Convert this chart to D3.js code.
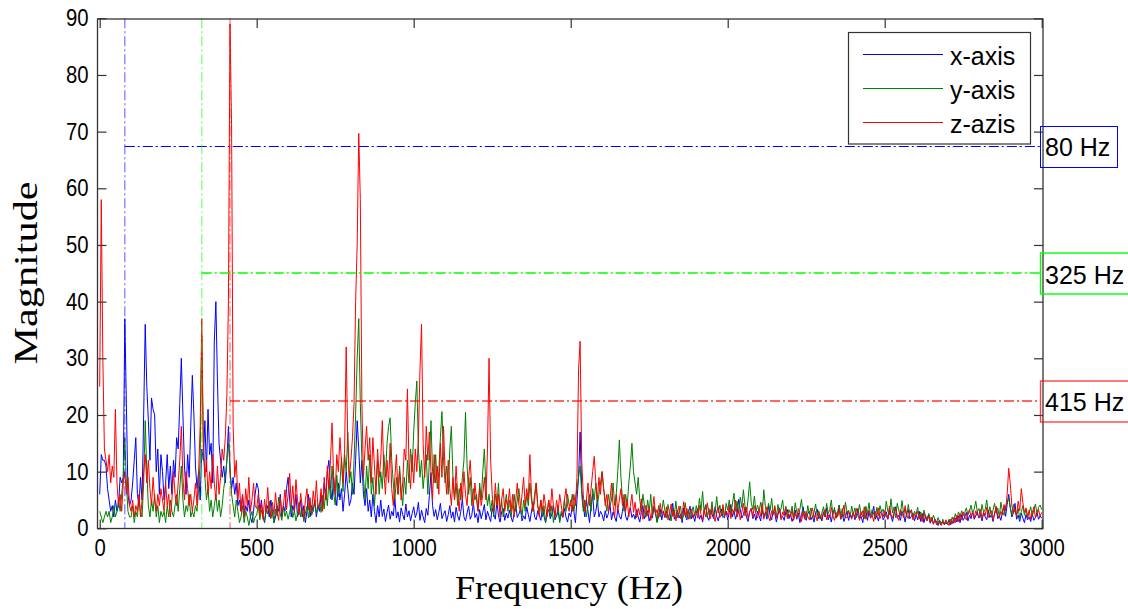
<!DOCTYPE html>
<html>
<head>
<meta charset="utf-8">
<script src="https://cdn.jsdelivr.net/npm/d3@7"></script>
<style>
  body { margin: 0; background: #fff; }
  svg { display: block; }
</style>
</head>
<body>
<svg id="chart" width="1128" height="609"></svg>
<script>
// Spectrum bins are spaced 5 Hz apart, starting at 0 Hz.
const freqStep = 5;

// FFT magnitude of the x-axis accelerometer channel (0 .. 3000 Hz)
const xAxisMag = [
  6,13,12,12,11,7,5,3,4,2,5,3,4,9,8,9,37,22,6,4,
  5,8,12,16,6,4,9,5,20,36,25,19,12,23,21,20,10,14,6,13,
  10,5,8,13,7,11,6,12,9,16,14,22,30,20,11,6,13,9,18,27,
  20,11,7,10,5,14,12,19,10,21,13,15,8,33,40,26,15,12,9,11,
  8,12,18,10,7,9,6,8,4,5,3,6,2,4,3,5,2,1,3,6,
  8,7,3,5,2,1,3,4,2,5,3,1,2,4,3,6,2,4,3,7,
  9,5,2,4,3,6,2,3,5,2,4,1,3,6,2,4,3,5,2,4,
  3,6,4,8,5,10,12,7,5,9,6,4,8,5,7,3,6,10,7,4,
  5,8,6,12,19,14,8,12,6,4,7,3,5,2,6,3,1,4,2,5,
  2.1,3.4,1.2,2.8,4.1,1.6,3.0,2.2,5.2,1.8,2.9,1.1,3.6,2.4,1.5,4.3,2.0,3.1,1.3,2.6,
  3.8,1.9,2.7,4.6,1.4,3.2,2.0,1.0,3.5,2.3,5.8,9.8,4.0,2.1,3.3,1.5,2.8,4.4,1.7,2.5,
  3.1,1.2,2.4,4.0,1.8,2.9,1.1,3.7,2.2,1.4,3.0,5.1,2.0,1.3,2.7,3.9,1.6,2.3,4.5,1.9,
  2.6,1.0,3.3,1.7,2.8,4.2,1.5,3.0,2.1,1.2,3.6,2.4,1.6,4.8,2.2,1.1,2.9,3.5,1.4,2.7,
  1.8,3.2,2.0,1.1,2.7,4.1,1.9,2.5,3.4,1.3,2.2,1.6,3.8,2.4,1.2,2.9,4.6,2.0,1.5,3.1,
  2.3,1.4,3.6,2.1,1.0,2.8,3.3,1.7,2.5,4.0,1.5,2.2,3.0,1.3,2.6,1.9,3.5,2.0,1.1,2.7,
  2,4,3,1,5,9,17,7,4,2,5,3,1,4,6,2,3,5,2,3,
  2.4,1.3,3.1,1.8,2.6,4.3,1.5,2.9,2.0,1.2,3.4,2.2,1.6,3.0,4.9,2.1,1.4,2.7,3.6,1.9,
  2.5,1.6,3.3,2.0,1.1,2.8,4.0,1.7,2.4,3.1,1.3,2.2,1.8,3.7,2.6,1.2,2.0,3.4,1.5,2.9,
  1.9,3.0,2.3,1.4,2.7,4.4,1.6,2.1,3.2,1.8,2.5,1.0,3.6,2.2,1.5,2.8,3.9,1.7,2.4,1.2,
  2.6,3.5,1.6,2.3,1.1,2.9,4.1,2.0,1.4,3.2,2.5,1.7,3.8,2.1,1.3,2.7,3.4,1.9,2.2,3.0,
  1.5,2.8,4.2,2.0,3.1,1.6,2.6,5.1,3.3,1.8,2.4,3.7,1.9,1.2,2.9,3.5,1.7,2.5,1.4,3.0,
  2.2,1.3,3.4,2.0,2.8,1.6,4.0,2.3,1.5,3.1,2.6,1.1,2.4,3.6,1.8,2.1,1.4,2.9,3.3,1.7,
  2.5,1.2,2.0,3.2,1.6,2.7,1.0,2.3,3.8,1.9,1.4,2.6,3.0,1.5,2.1,1.1,2.8,3.4,1.7,2.2,
  1.3,2.9,2.0,3.6,1.5,2.4,1.1,2.7,3.3,1.8,2.2,4.1,1.6,2.5,1.2,2.0,3.0,1.4,2.6,1.9,
  2.8,1.5,2.3,3.5,1.7,2.1,1.0,2.6,3.2,1.4,2.9,1.8,2.4,3.9,1.6,2.2,1.3,2.7,3.1,1.5,
  2.0,2.9,1.6,3.4,2.2,1.2,2.6,3.8,1.8,2.3,1.4,3.0,2.5,1.1,2.8,3.3,1.7,2.1,2.7,1.3,
  2.4,1.5,3.0,1.2,2.6,1.0,2.2,1.4,2.5,0.9,1.9,0.7,1.6,1.1,0.5,1.4,0.8,1.2,0.6,1.0,
  0.7,1.5,0.6,1.3,0.9,1.8,1.1,2.2,1.0,2.4,1.4,2.0,2.8,1.3,2.3,1.7,3.0,1.6,2.2,2.8,
  1.8,2.3,1.3,2.8,2.0,1.5,3.2,1.9,2.4,1.2,2.7,3.5,1.7,2.2,1.4,2.9,3.8,2.1,4.2,6.0,
  3.6,2.0,2.8,4.4,1.6,2.3,1.2,2.7,1.8,1.0,2.4,1.5,2.0,1.2,2.6,1.4,1.9,2.8,1.6,2.2,
  1.8
];

// FFT magnitude of the y-axis channel
const yAxisMag = [
  3,2,1,2,3,2,3,1,2,4,2,3,5,3,6,9,16,8,3,2,
  2,4,1,3,2,5,3,2,8,19,10,4,2,5,3,6,2,4,1,3,
  2,3,1,4,2,5,3,2,4,6,3,7,11,5,2,4,3,6,2,3,
  2,4,3,7,12,34,14,9,5,7,3,5,2,4,6,3,5,2,4,7,
  9,12,15,11,6,4,2,5,3,1,2,4,1,3,2,0.5,2,3,1,2,
  2.3,4.1,1.5,3.2,2.0,1.2,3.6,2.5,4.8,1.7,2.9,1.0,3.4,2.2,5.5,2.6,1.4,3.8,2.1,3.0,
  1.6,2.8,4.2,1.9,3.1,1.3,2.5,4.6,2.0,3.5,1.2,2.7,3.9,1.8,4.4,2.3,3.2,5.0,2.6,3.6,
  4.5,2.8,5.8,3.4,6.9,4.0,8.5,5.2,11,6.3,4.1,9.4,5.6,7.8,12.5,6.5,13,10,17,8,
  10,6,12,20,30,37,22,12,9,5,11,7,13,6,9,4,8,12,6,10,
  7,13,9,15,18,19.5,12,8,5,9,6,11,7,4,9,6,12,8,14,10,
  17,22,26,14,9,12,7,10,13,6,12,19,10,8,13,7,10,16,20.6,12,
  8,11,6,14,18,9,5,8,4,7,5,9,12,20.5,11,6,9,4,7,5,
  6,3,8,5,10,14,7,4,6,3,5,2,6,4,8,3,5,2,4,6,
  3,5,2,4,6,3,5,7,4,2,5,3,6,4,8,5,3,6,8,4,
  3,5,2,4,1,3,5,2,4,1,3,2,4,1,3,2,5,3,6,4,
  4,6,3,5,7,9,11,6,3,5,2,4,6,3,7,5,8,4,6,8,
  10,7,5,3,6,4,5,8,4,6,10,15.6,9,5,3,6,4,8,11,15,
  10,8,6,9,5,3,6,4,2,5,3,6,2,4,3,1,4,2,3,5,
  3.1,1.8,4.2,2.5,1.3,3.6,2.2,4.8,1.9,2.7,3.9,1.5,2.4,4.5,2.0,3.3,1.6,2.9,3.8,2.1,
  4.0,2.6,5.3,3.1,6.5,2.8,4.2,1.9,3.5,2.4,4.7,2.0,3.0,5.6,2.7,4.1,2.2,3.6,1.8,4.4,
  3.2,5.0,2.4,4.3,6.2,3.0,4.8,2.6,5.5,3.7,6.8,4.0,2.8,5.2,8.2,4.5,3.3,5.7,2.9,4.1,
  3.0,4.6,2.5,6.8,3.8,2.2,4.4,3.1,5.3,2.4,3.7,1.9,4.2,2.8,3.5,5.0,2.3,3.9,2.0,3.3,
  2.6,3.9,1.8,4.5,2.9,2.1,3.4,5.1,2.4,3.0,1.7,4.0,2.5,3.6,1.9,2.8,4.3,2.2,3.1,1.6,
  2.7,3.8,2.0,4.4,2.6,3.3,5.0,2.3,3.7,1.8,2.9,4.1,2.2,3.5,1.9,4.6,2.8,3.2,2.1,3.9,
  2.4,3.6,1.9,2.8,4.2,2.3,3.1,1.7,3.9,2.6,4.5,2.0,3.3,2.5,1.8,3.7,2.2,4.0,2.9,3.4,
  2.1,4.8,3.0,2.4,5.2,2.7,3.8,1.9,4.4,3.1,2.3,4.9,2.8,3.5,2.0,4.2,2.6,3.3,1.8,3.0,
  2.5,3.7,1.9,2.9,1.6,3.2,2.2,1.4,2.6,1.8,1.2,2.3,1.5,0.9,1.9,1.1,0.6,1.6,0.8,1.3,
  0.7,1.6,0.9,2.0,1.2,2.6,1.5,2.9,1.9,3.1,2.2,2.8,3.6,2.4,3.0,4.1,2.6,3.4,4.8,2.9,
  3.5,2.2,4.2,2.8,3.3,5.0,2.5,3.8,2.1,3.2,4.4,2.7,3.6,2.0,4.6,3.0,2.3,3.9,4.5,5.4,
  3.6,2.4,4.2,3.0,2.2,3.5,1.8,2.9,4.0,2.3,3.4,1.9,2.7,3.8,2.1,3.2,4.3,2.6,3.7,4.1,
  3.3
];

// FFT magnitude of the z-axis channel
const zAxisMag = [
  25,58,30,14,12,10,13,8,11,9,21,8,4,6,3,8,10,6,9,4,
  3,5,2,4,3,6,2,5,10,13,8,12,7,4,9,5,3,6,4,7,
  5,3,8,4,6,2,5,10,6,4,8,12,18,9,5,10,7,4,6,3,
  5,8,4,10,18,37,16,9,12,6,10,7,13,8,5,11,6,9,14,12,
  16,23.5,40,89,71,18,9,12,5,8,3,6,2,7,4,9,3,5,8,4,
  3.5,6.0,2.2,4.4,1.6,5.1,2.8,7.2,3.4,1.9,4.6,2.5,6.3,3.0,1.4,5.5,2.7,4.0,6.8,3.3,
  5.9,9.7,4.2,7.5,3.1,8.6,5.0,2.4,6.2,3.8,1.7,4.9,7.0,3.2,5.4,2.6,6.6,4.1,8.4,3.6,
  4,7,3,9,5,11,7,12,18.6,9,6,13,10,16,12,8,14,32,15,9,
  12,16,22,40,50,69.7,58,22,9,14,18,12,16,8,16,11,6,14,9,12,
  19,10,6,12,8,15,7,4,9,13,6,10,5,8,14,12,24.6,11,7,13,
  8,14,10,16,28,36,15,9,18,12,17,10,5,13,8,11,6,15,9,18,
  10,6,12,7,4,9,5,11,6,3,8,5,10,6,4,9,12,7,4,8,
  5,3,7,4,6,9,5,14,30,12,6,3,8,4,6,2,5,7,3,5,
  4,7,3,6,2,5,8,4,3,6,9,4,7,5,13,6,3,5,8,4,
  2,5,3,6,4,2,5,3,7,4,2,5,3,6,4,2,5,7,4,3,
  5,3,6,4,9,28,33,12,6,3,5,8,4,7,10,12.7,8,5,9,6,
  10,7,4,6,3,5,8,4,2,6,3,5,7,4,6,3,5,2,4,6,
  2.8,4.6,1.9,3.5,2.4,5.2,1.6,3.0,4.1,2.2,3.7,1.4,2.9,5.6,2.5,3.3,1.8,4.4,2.6,3.1,
  2.0,3.8,1.5,2.7,4.3,2.1,3.2,1.3,2.8,3.9,1.7,2.4,4.7,2.2,3.5,1.6,2.9,3.4,1.9,2.6,
  3.1,1.8,4.0,2.4,1.4,3.3,2.0,4.5,2.6,1.7,3.6,2.2,1.2,2.9,3.8,1.9,2.5,4.2,2.1,3.0,
  2.3,4.1,1.7,3.4,2.6,5.0,2.0,3.2,1.5,2.8,4.4,2.2,3.7,1.6,2.9,3.5,2.0,4.0,2.4,1.8,
  3.3,2.1,4.5,1.6,2.7,3.8,2.0,1.3,3.1,2.4,4.0,1.8,2.6,3.4,1.5,2.9,2.2,3.7,1.7,2.5,
  2.0,3.2,1.4,2.6,1.9,3.5,2.3,1.2,2.8,1.6,3.0,2.1,1.5,2.7,3.6,1.8,2.4,1.3,2.9,2.2,
  1.7,2.6,3.3,1.5,2.4,1.9,3.7,2.2,1.4,2.8,2.0,3.4,1.6,2.5,4.1,2.1,1.8,3.0,2.3,1.6,
  2.7,1.9,3.5,2.3,1.4,2.9,2.0,3.8,1.6,2.5,3.2,1.8,2.4,1.2,3.0,2.2,3.6,1.7,2.6,2.0,
  3.1,2.2,1.6,3.9,2.4,1.8,2.9,3.5,2.0,1.4,3.3,2.6,1.9,4.0,2.3,1.7,2.8,3.2,1.5,2.5,
  2.1,3.0,1.6,2.4,1.2,2.7,1.8,1.3,2.2,1.0,1.9,0.8,1.5,0.6,1.3,0.9,0.5,1.2,0.7,1.5,
  0.9,0.5,1.6,0.8,1.9,1.0,2.3,1.2,2.6,1.5,2.9,2.0,1.5,2.6,3.3,2.1,2.8,1.8,3.1,2.4,
  2.0,3.4,1.7,2.8,2.3,3.7,1.9,2.6,3.1,1.5,2.5,3.9,2.2,1.8,3.0,2.4,4.2,3.1,6.0,10.6,
  7.8,4.0,2.6,3.4,2.2,4.8,3.1,7.0,4.5,2.8,3.6,2.0,3.2,1.6,2.7,3.8,1.9,2.4,3.3,2.1,
  2.8
];

const seriesNames = ["x-axis", "y-axis", "z-azis"];
const seriesColors = ["#0000ff", "#008000", "#ff0000"];

const xTicks = [0, 500, 1000, 1500, 2000, 2500, 3000];
const yTicks = [0, 10, 20, 30, 40, 50, 60, 70, 80, 90];

// Dominant frequency markers: frequency, label height, label text, colour
const markerFreqs = [80, 325, 415];
const markerLevels = [67.5, 45, 22.5];
const markerLabels = ["80 Hz", "325 Hz", "415 Hz"];
const markerColors = ["#0000ff", "#00ff00", "#ff0000"];

const sans = "'Liberation Sans', Arial, Helvetica, sans-serif";
const serif = "'Liberation Serif', 'Times New Roman', serif";

const svg = d3.select("#chart");

const x = d3.scaleLinear().domain([0, 3000]).range([99.7, 1041.7]);
const y = d3.scaleLinear().domain([0, 90]).range([528.3, 18.3]);

const box = { left: 97.5, right: 1043, top: 19, bottom: 528.5 };

svg.append("defs").append("clipPath").attr("id", "plotClip")
  .append("rect")
  .attr("x", box.left).attr("y", box.top)
  .attr("width", box.right - box.left).attr("height", box.bottom - box.top);

// spectra
const plot = svg.append("g").attr("clip-path", "url(#plotClip)");
const line = d3.line()
  .x((d, i) => x(i * freqStep))
  .y(d => y(d));

[xAxisMag, yAxisMag, zAxisMag].forEach((vals, k) => {
  plot.append("path")
    .datum(vals)
    .attr("fill", "none")
    .attr("stroke", seriesColors[k])
    .attr("stroke-width", 1)
    .attr("stroke-linejoin", "round")
    .attr("d", line);
});

// dash-dot marker lines
const dashDot = "10,3,2,3";
const markers = svg.append("g");
markerFreqs.forEach((f, k) => {
  markers.append("line")
    .attr("x1", x(f)).attr("x2", x(f))
    .attr("y1", y(90)).attr("y2", y(0))
    .attr("stroke", markerColors[k])
    .attr("stroke-opacity", 0.55)
    .attr("stroke-width", 1.2)
    .attr("stroke-dasharray", dashDot);
  const ly = k === 0 ? Math.round(y(markerLevels[k])) + 0.5 : Math.round(y(markerLevels[k]));
  markers.append("line")
    .attr("x1", x(f)).attr("x2", 1040)
    .attr("y1", ly).attr("y2", ly)
    .attr("stroke", markerColors[k])
    .attr("stroke-opacity", k === 2 ? 0.8 : 1)
    .attr("stroke-width", k === 0 ? 1.1 : 1.4)
    .attr("stroke-dasharray", dashDot);
});

// axes frame and inward ticks
const axisColor = "#333333";
svg.append("rect")
  .attr("x", box.left).attr("y", box.top)
  .attr("width", box.right - box.left).attr("height", box.bottom - box.top)
  .attr("fill", "none").attr("stroke", axisColor).attr("stroke-width", 1.3);

function styleAxis(g, labelled) {
  g.select(".domain").remove();
  g.selectAll(".tick line").attr("stroke", axisColor).attr("stroke-width", 1.2);
  const t = g.selectAll(".tick text")
    .attr("fill", "#000")
    .style("font-family", sans)
    .style("font-size", "23px");
  if (labelled) {
    t.attr("textLength", d => String(d).length * 11.3)
     .attr("lengthAdjust", "spacingAndGlyphs");
  }
}

const fmt = d3.format("d");

svg.append("g")
  .attr("transform", `translate(0,${box.bottom})`)
  .call(d3.axisBottom(x).tickValues(xTicks).tickFormat(fmt)
    .tickSizeInner(-9).tickSizeOuter(0).tickPadding(11))
  .call(g => styleAxis(g, true));

svg.append("g")
  .attr("transform", `translate(0,${box.top})`)
  .call(d3.axisTop(x).tickValues(xTicks).tickSizeInner(-9).tickSizeOuter(0).tickFormat(""))
  .call(g => styleAxis(g, false));

svg.append("g")
  .attr("transform", `translate(${box.left},0)`)
  .call(d3.axisLeft(y).tickValues(yTicks).tickFormat(fmt)
    .tickSizeInner(-9).tickSizeOuter(0).tickPadding(9))
  .call(g => styleAxis(g, true));

svg.append("g")
  .attr("transform", `translate(${box.right},0)`)
  .call(d3.axisRight(y).tickValues(yTicks).tickSizeInner(-9).tickSizeOuter(0).tickFormat(""))
  .call(g => styleAxis(g, false));

// axis titles
svg.append("text")
  .attr("x", 569).attr("y", 599)
  .attr("text-anchor", "middle")
  .attr("textLength", 228).attr("lengthAdjust", "spacingAndGlyphs")
  .style("font-family", serif).style("font-size", "34px")
  .text("Frequency (Hz)");

svg.append("text")
  .attr("transform", "translate(37,273) rotate(-90)")
  .attr("text-anchor", "middle")
  .attr("textLength", 183).attr("lengthAdjust", "spacingAndGlyphs")
  .style("font-family", serif).style("font-size", "34px")
  .text("Magnitude");

// marker labels in boxes on the right
markerLabels.forEach((lab, k) => {
  const cy = y(markerLevels[k]);
  svg.append("rect")
    .attr("x", 1040.5).attr("y", Math.round(cy - 20) + (k === 0 ? 0.5 : 0))
    .attr("width", k === 0 ? 77 : 100).attr("height", 41)
    .attr("fill", "none")
    .attr("stroke", markerColors[k])
    .attr("stroke-opacity", k === 2 ? 0.75 : 1)
    .attr("stroke-width", k === 0 ? 1 : 1.4);
  svg.append("text")
    .attr("x", 1045).attr("y", cy + 10.5)
    .style("font-family", sans).style("font-size", "25px")
    .text(lab);
});

// legend
const legend = svg.append("g");
legend.append("rect")
  .attr("x", 848.5).attr("y", 32.5).attr("width", 182).attr("height", 111.5)
  .attr("fill", "#fff").attr("stroke", axisColor).attr("stroke-width", 1.2);
seriesNames.forEach((name, k) => {
  const ly = 54.5 + k * 34;
  legend.append("line")
    .attr("x1", 863).attr("x2", 943).attr("y1", ly).attr("y2", ly)
    .attr("stroke", seriesColors[k]).attr("stroke-width", 1);
  legend.append("text")
    .attr("x", 950).attr("y", ly + 10)
    .style("font-family", sans).style("font-size", "25px")
    .text(name);
});
</script>
</body>
</html>
